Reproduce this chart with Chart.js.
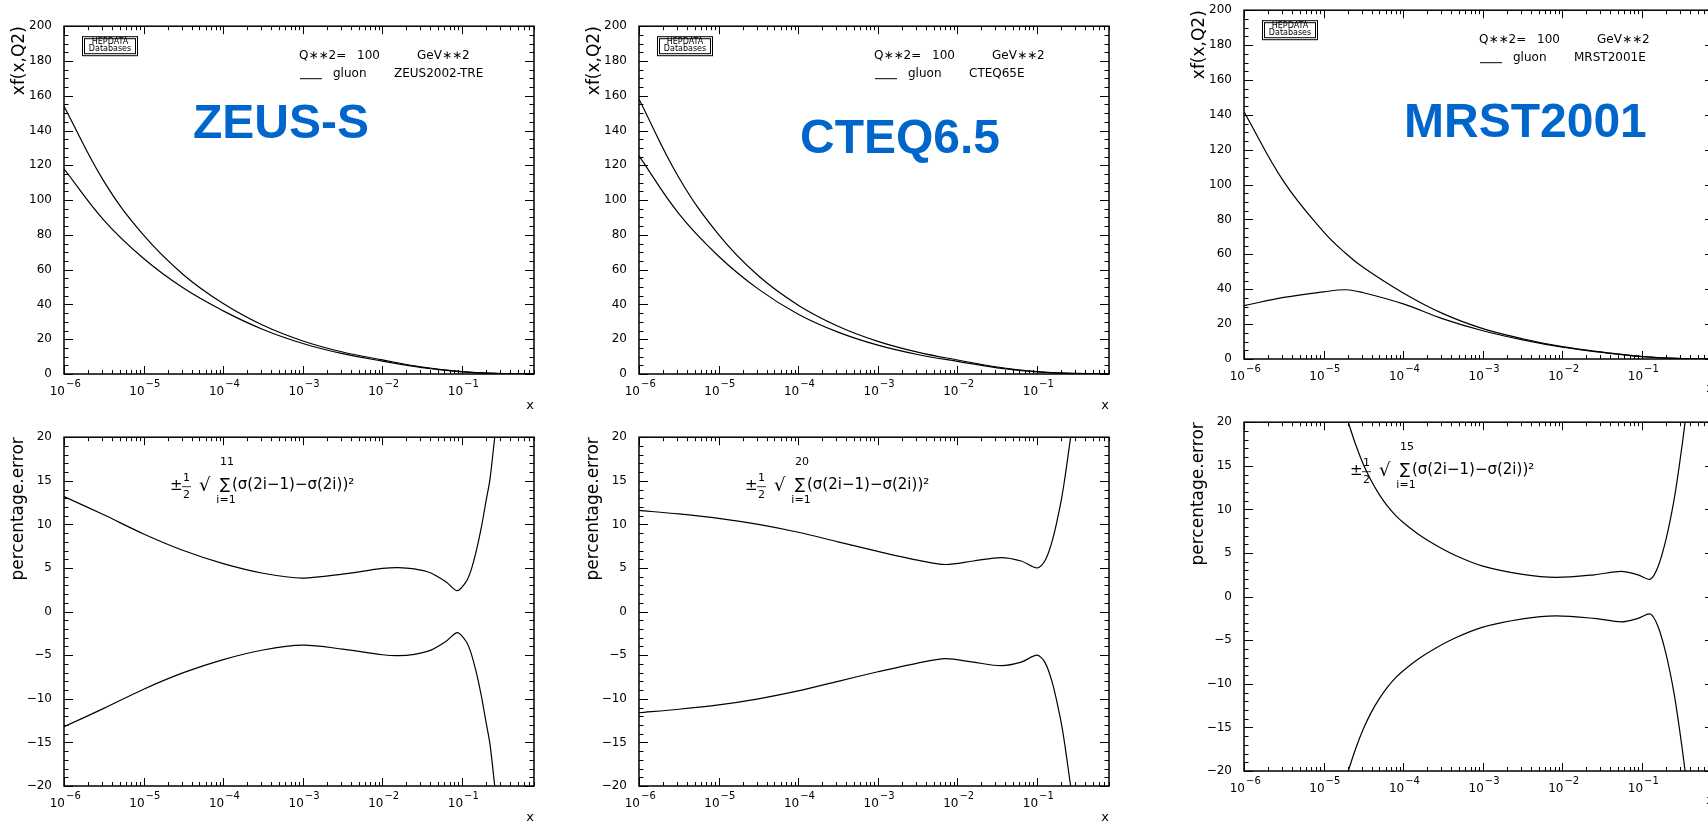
<!DOCTYPE html>
<html>
<head>
<meta charset="utf-8">
<title>gluon xf(x,Q2), Q**2 = 100 GeV**2</title>
<script src="https://cdn.jsdelivr.net/npm/chart.js@4.4.1/dist/chart.umd.min.js"></script>
<style>
  html, body { margin: 0; padding: 0; background: #fff; }
  body { width: 1708px; height: 821px; overflow: hidden; position: relative; }
  canvas { position: absolute; }
</style>
</head>
<body>
<script>
// ---- gluon xf(x,Q2) bands (upper / lower) ----
const pdfX = [1e-6, 3.16e-6, 1e-5, 3.16e-5, 1e-4, 3.16e-4, 1e-3, 3.16e-3, 1e-2, 3.16e-2, 0.1, 0.316, 0.8];
const zeusUp =   [154, 110.9, 79.8, 57.1, 40.5, 28.0, 19.0, 12.65, 8.1, 3.98, 1.33, 0.30, 0.02];
const zeusDown = [118, 88.5, 66.4, 49.4, 36.3, 25.6, 17.55, 11.67, 7.41, 3.62, 1.27, 0.20, 0.01];
const cteqUp =   [158, 113.0, 80.2, 56.5, 39.6, 27.5, 18.8, 12.6, 8.07, 4.04, 1.37, 0.34, 0.03];
const cteqDown = [125.4, 92.2, 67.7, 48.8, 34.4, 24.1, 16.6, 11.2, 7.23, 3.56, 1.24, 0.16, 0.01];

const mrstX = [1e-6, 3.16e-6, 1e-5, 1.9e-5, 3.16e-5, 1e-4, 3.16e-4, 1e-3, 3.16e-3, 1e-2, 3.16e-2, 0.1, 0.316, 0.8];
const mrstUp =   [141.8, 101.7, 72.9, 60.5, 52.5, 37.9, 26.0, 17.4, 11.6, 7.05, 3.95, 1.43, 0.30, 0.02];
const mrstDown = [30.6, 35.3, 38.5, 39.7, 38.0, 31.6, 23.0, 16.2, 10.95, 6.75, 3.75, 1.37, 0.20, 0.01];

// ---- percentage errors ----
const zeusErrX = [1e-6, 3.16e-6, 1e-5, 3.16e-5, 1e-4, 3.16e-4, 1e-3, 3.16e-3, 1e-2, 1.58e-2, 2.51e-2, 3.98e-2, 6.31e-2, 8.7e-2, 0.112, 0.129, 0.151, 0.174, 0.2, 0.224, 0.257, 0.288];
const zeusErrUp =   [13.2, 11.1, 8.9, 7.0, 5.5, 4.4, 3.85, 4.3, 4.95, 5.05, 4.9, 4.45, 3.4, 2.4, 3.4, 4.7, 7.0, 9.6, 12.7, 15.2, 20.0, 23.9];
const zeusErrDown = [-13.2, -11.1, -8.9, -7.0, -5.5, -4.4, -3.85, -4.3, -4.95, -5.05, -4.9, -4.45, -3.4, -2.4, -3.4, -4.7, -7.0, -9.6, -12.7, -15.2, -20.0, -23.9];

const cteqErrX = [1e-6, 3.16e-6, 1e-5, 3.16e-5, 1e-4, 3.16e-4, 1e-3, 3.16e-3, 7.08e-3, 1.58e-2, 3.55e-2, 6.31e-2, 0.1, 0.126, 0.158, 0.2, 0.224, 0.251, 0.269, 0.295];
const cteqErrUp =   [11.6, 11.2, 10.7, 10.0, 9.1, 8.0, 6.9, 5.9, 5.4, 5.8, 6.2, 5.8, 5.0, 5.85, 8.4, 12.65, 15.4, 18.6, 20.6, 23.8];
const cteqErrDown = [-11.6, -11.2, -10.7, -10.0, -9.1, -8.0, -6.9, -5.9, -5.4, -5.8, -6.2, -5.8, -5.0, -5.85, -8.4, -12.65, -15.4, -18.6, -20.6, -23.8];

const mrstErrX = [1.58e-5, 2.04e-5, 2.51e-5, 3.16e-5, 3.98e-5, 5.01e-5, 6.31e-5, 7.94e-5, 1e-4, 1.58e-4, 2.51e-4, 4.47e-4, 1e-3, 3.16e-3, 8.3e-3, 2.51e-2, 5.5e-2, 8.9e-2, 0.127, 0.158, 0.2, 0.251, 0.295, 0.347, 0.38];
const mrstErrUp =   [23.3, 20, 17.5, 15.15, 13.25, 11.7, 10.4, 9.35, 8.5, 7.1, 5.95, 4.75, 3.5, 2.55, 2.2, 2.5, 2.9, 2.5, 2.0, 3.4, 6.6, 11.0, 15.2, 20, 23.3];
const mrstErrDown = [-23.3, -20, -17.5, -15.15, -13.25, -11.7, -10.4, -9.35, -8.5, -7.1, -5.95, -4.75, -3.5, -2.55, -2.2, -2.5, -2.9, -2.5, -2.0, -3.4, -6.6, -11.0, -15.2, -20, -23.3];

// ---- axis labelling ----
const xExponents = [-6, -5, -4, -3, -2, -1];
const xRange = [1e-6, 0.8];
const pdfRange = [0, 200];
const errRange = [-20, 20];

Chart.defaults.font.family = '"DejaVu Sans", sans-serif';
Chart.defaults.color = '#000';

// frame position of each panel on the page (left, top, right, bottom)
const panels = [
  { box: [64, 23, 534, 374],   xs: pdfX, up: zeusUp, down: zeusDown, kind: 'pdf', set: 'ZEUS2002-TRE', name: 'ZEUS-S',   nameAt: [129, 112], xGap: 1 },
  { box: [639, 23, 1109, 374], xs: pdfX, up: cteqUp, down: cteqDown, kind: 'pdf', set: 'CTEQ65E',      name: 'CTEQ6.5',  nameAt: [161, 127], xGap: 1 },
  { box: [1244, 7, 1714, 359], xs: mrstX, up: mrstUp, down: mrstDown, kind: 'pdf', set: 'MRST2001E',   name: 'MRST2001', nameAt: [160, 127], xGap: 3 },
  { box: [64, 434, 534, 786],   xs: zeusErrX, up: zeusErrUp, down: zeusErrDown, kind: 'err', nsum: '11', xGap: 1 },
  { box: [639, 434, 1109, 786], xs: cteqErrX, up: cteqErrUp, down: cteqErrDown, kind: 'err', nsum: '20', xGap: 1 },
  { box: [1244, 419, 1714, 771], xs: mrstErrX, up: mrstErrUp, down: mrstErrDown, kind: 'err', nsum: '15', xGap: 3 }
];

const Y_W = 64, X_H = 40, PAD_T = 16, PAD_R = 10, PAD_B = 4;

function series(xs, ys) {
  return xs.map((x, i) => ({ x: x, y: ys[i] }));
}

// PAW style frame: box, inward ticks on all sides, 10^n labels, captions
function hepFrame(p) {
  return {
    id: 'hepFrame',
    afterDraw(chart) {
      const { ctx, chartArea: a, scales: { x, y } } = chart;
      const L = a.left, T = a.top;
      ctx.save();
      ctx.strokeStyle = '#000';
      ctx.fillStyle = '#000';

      ctx.lineWidth = 1;
      ctx.beginPath();
      for (let d = -6; d <= 0; d++) {
        for (let m = 1; m <= 9; m++) {
          const v = m * Math.pow(10, d);
          if (v > x.max * 1.0001) break;
          const px = Math.round(x.getPixelForValue(v)) + 0.5;
          const len = m === 1 ? 8 : 4;
          ctx.moveTo(px, a.bottom); ctx.lineTo(px, a.bottom - len);
          ctx.moveTo(px, a.top); ctx.lineTo(px, a.top + len);
        }
      }
      const minor = p.kind === 'pdf' ? 5 : 1;
      const major = p.kind === 'pdf' ? 20 : 5;
      for (let v = y.min; v <= y.max + 1e-9; v += minor) {
        const py = Math.round(y.getPixelForValue(v)) + 0.5;
        const len = Math.abs(v % major) < 1e-9 ? 9 : 4.5;
        ctx.moveTo(a.left, py); ctx.lineTo(a.left + len, py);
        ctx.moveTo(a.right, py); ctx.lineTo(a.right - len, py);
      }
      ctx.stroke();

      ctx.lineWidth = 1.5;
      ctx.strokeRect(a.left, a.top, a.right - a.left, a.bottom - a.top);

      // decade labels 10^n
      xExponents.forEach(e => {
        const px = x.getPixelForValue(Math.pow(10, e));
        ctx.textBaseline = 'alphabetic';
        ctx.font = '12px "DejaVu Sans"';
        ctx.textAlign = 'right';
        ctx.fillText('10', px + 1, a.bottom + 21);
        ctx.font = '10px "DejaVu Sans"';
        ctx.textAlign = 'left';
        ctx.fillText('\u2212' + (-e), px + 2, a.bottom + 13);
      });

      if (p.kind === 'pdf') {
        // HEPDATA stamp
        ctx.lineWidth = 1;
        ctx.strokeRect(L + 18.5, T + 10.5, 55, 19);
        ctx.strokeRect(L + 20.5, T + 12.5, 51, 15);
        ctx.font = '8px "DejaVu Sans"';
        ctx.textAlign = 'center';
        ctx.textBaseline = 'middle';
        ctx.fillText('HEPDATA', L + 46, T + 15.5);
        ctx.fillText('Databases', L + 46, T + 22.5);

        // key
        ctx.font = '12px "DejaVu Sans"';
        ctx.textAlign = 'left';
        ctx.fillText('Q\u2217\u22172=', L + 235, T + 30);
        ctx.fillText('100', L + 293, T + 30);
        ctx.fillText('GeV\u2217\u22172', L + 353, T + 30);
        ctx.fillText('gluon', L + 269, T + 48);
        ctx.fillText(p.set, L + 330, T + 48);
        ctx.beginPath();
        ctx.moveTo(L + 236, T + 52.5); ctx.lineTo(L + 258, T + 52.5);
        ctx.stroke();

        // set name
        ctx.font = 'bold 48px "Liberation Sans", Arial, sans-serif';
        ctx.fillStyle = '#0066cc';
        ctx.textBaseline = 'alphabetic';
        ctx.fillText(p.name, L + p.nameAt[0], T + p.nameAt[1]);
      } else {
        // +-1/2 sqrt(sum (sigma(2i-1) - sigma(2i))^2)
        const fx = L + 106, fy = T + 48;
        ctx.textBaseline = 'middle';
        ctx.textAlign = 'left';
        ctx.font = '15px "DejaVu Sans"';
        ctx.fillText('\u00b1', fx, fy + 1);
        ctx.font = '11px "DejaVu Sans"';
        ctx.textAlign = 'center';
        ctx.fillText('1', fx + 16.5, fy - 7);
        ctx.fillText('2', fx + 16.5, fy + 10);
        ctx.lineWidth = 0.8;
        ctx.beginPath();
        ctx.moveTo(fx + 12, fy + 1.5); ctx.lineTo(fx + 21, fy + 1.5);
        ctx.stroke();
        ctx.font = '18px "DejaVu Sans"';
        ctx.textAlign = 'left';
        ctx.fillText('\u221a', fx + 29, fy + 1);
        ctx.font = '15px "DejaVu Sans"';
        ctx.textAlign = 'center';
        ctx.fillText('\u2211', fx + 55, fy);
        ctx.font = '11px "DejaVu Sans"';
        ctx.fillText(p.nsum, fx + 57, fy - 23);
        ctx.fillText('i=1', fx + 56, fy + 15);
        ctx.font = '15px "DejaVu Sans"';
        ctx.textAlign = 'left';
        ctx.fillText('(\u03c3(2i\u22121)\u2212\u03c3(2i))\u00b2', fx + 62, fy);
      }
      ctx.restore();
    }
  };
}

panels.forEach(p => {
  const [l, t, r, b] = p.box;
  const cv = document.createElement('canvas');
  cv.width = (r - l) + Y_W + PAD_R;
  cv.height = (b - t) + PAD_T + X_H + PAD_B;
  cv.style.left = (l - Y_W) + 'px';
  cv.style.top = (t - PAD_T) + 'px';
  document.body.appendChild(cv);

  const pdf = p.kind === 'pdf';
  const lineStyle = {
    borderColor: '#000',
    borderWidth: 1.2,
    pointRadius: 0,
    fill: false,
    tension: pdf ? 0.4 : 0.3,
    clip: 0
  };

  new Chart(cv.getContext('2d'), {
    type: 'line',
    data: {
      datasets: [
        Object.assign({ label: 'upper', data: series(p.xs, p.up) }, lineStyle),
        Object.assign({ label: 'lower', data: series(p.xs, p.down) }, lineStyle)
      ]
    },
    options: {
      responsive: false,
      animation: false,
      events: [],
      layout: { padding: { left: 0, top: PAD_T, right: PAD_R, bottom: PAD_B } },
      plugins: { legend: { display: false }, tooltip: { enabled: false } },
      scales: {
        x: {
          type: 'logarithmic',
          min: xRange[0],
          max: xRange[1],
          grid: { display: false, drawTicks: false },
          border: { display: false },
          ticks: { display: false },
          title: {
            display: true, text: 'x', align: 'end',
            font: { size: 13 }, padding: { top: 0, bottom: p.xGap }
          },
          afterFit(scale) { scale.height = X_H; }
        },
        y: {
          type: 'linear',
          min: pdf ? pdfRange[0] : errRange[0],
          max: pdf ? pdfRange[1] : errRange[1],
          grid: { display: false, drawTicks: false },
          border: { display: false },
          ticks: {
            stepSize: pdf ? 20 : 5,
            padding: 12,
            font: { size: 12 },
            callback: v => String(v).replace('-', '\u2212')
          },
          title: {
            display: true,
            text: pdf ? 'xf(x,Q2)' : 'percentage.error',
            align: 'end',
            font: { size: 17 },
            padding: { top: pdf ? 9.5 : 8, bottom: 0 }
          },
          afterFit(scale) { scale.width = Y_W; }
        }
      }
    },
    plugins: [hepFrame(p)]
  });
});
</script>
</body>
</html>
